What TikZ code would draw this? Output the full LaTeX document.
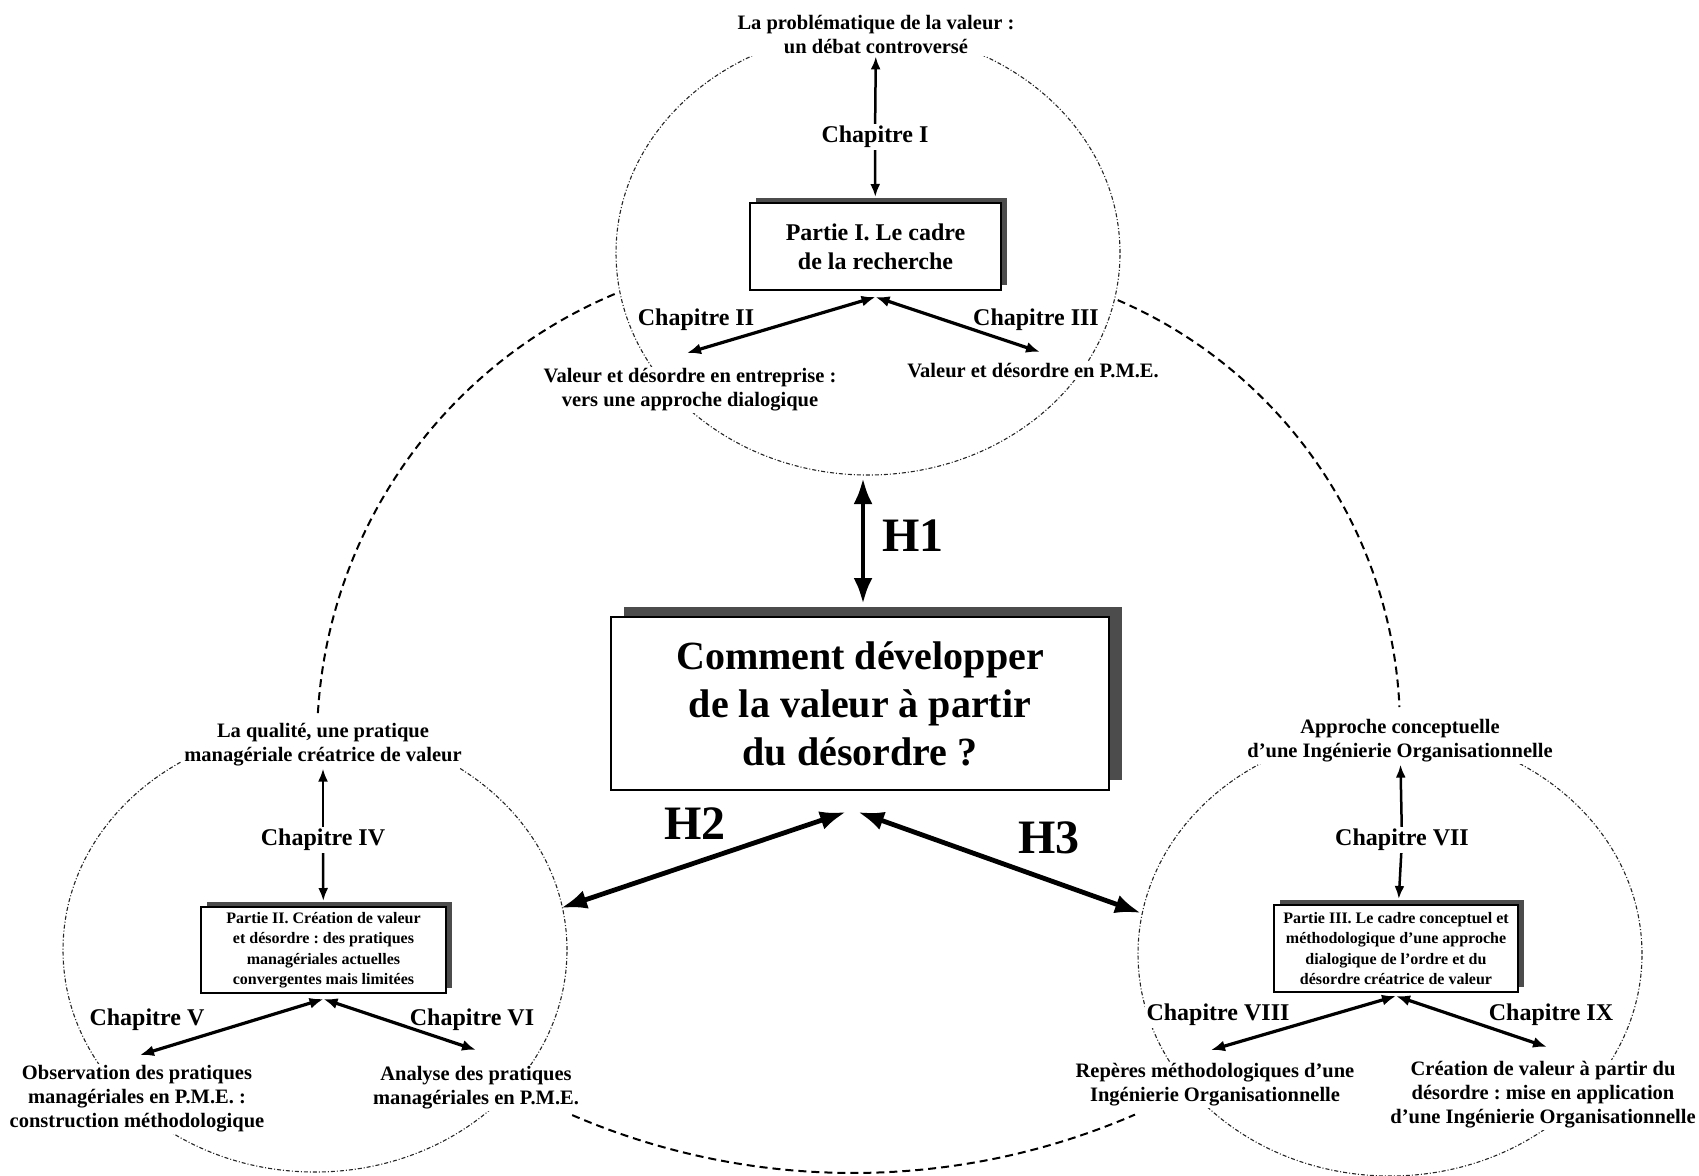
\documentclass[tikz,border=0pt]{standalone}
\usepackage{fontspec}
\setmainfont{Liberation Serif}
\usetikzlibrary{arrows.meta,shapes.geometric,shadows}
\frenchspacing
\begin{document}
\begin{tikzpicture}[x=1pt,y=-1pt,
  lbl/.style={font=\fontsize{20.5}{24}\selectfont\bfseries, align=center, fill=white, inner sep=2pt},
  chap/.style={font=\fontsize{24}{28}\selectfont\bfseries, fill=white, inner sep=2pt},
  hlab/.style={font=\fontsize{48}{52}\selectfont\bfseries, inner sep=1pt},
  circ/.style={draw=black!85, line width=1.1pt, dash pattern=on 4pt off 2pt on 1pt off 2pt, ellipse, inner sep=0pt, minimum width=504pt, minimum height=444pt},
  link/.style={draw=black, line width=2pt, dash pattern=on 8pt off 5pt},
  arr/.style={-{Latex[length=13pt,width=10pt]}, line width=2.5pt},
  darr/.style={{Latex[length=14pt,width=11pt]}-{Latex[length=14pt,width=11pt]}, line width=3.2pt},
  harr/.style={{Latex[length=26pt,width=19pt]}-{Latex[length=26pt,width=19pt]}, line width=4.8pt},
  partbox/.style={draw, line width=2pt, fill=white, align=center, inner sep=0pt,
    drop shadow={shadow xshift=6pt, shadow yshift=5pt, fill=black!70, opacity=1}},
  bigbox/.style={draw, line width=2.5pt, fill=white, align=center, inner sep=0pt,
    drop shadow={shadow xshift=13pt, shadow yshift=10pt, fill=black!70, opacity=1}}
]
\useasboundingbox (0,0) rectangle (1699,1175);

% circles of the three parts
\node[circ] (c1) at (868,253) {};
\node[circ] (c2) at (315,950) {};
\node[circ] (c3) at (1390,954) {};

% large dashed links between circles
\draw[link] (803,742) ++(-112.8:486) arc[start angle=-112.8, end angle=-176.6, radius=486];
\draw[link] (933,729) ++(-66.7:467) arc[start angle=-66.7, end angle=-2.7, radius=467];
\draw[link] (853,463) ++(113.3:710) arc[start angle=113.3, end angle=66.6, radius=710];

% Part I
\node[lbl] (t1) at (876,35) {La problématique de la valeur :\\un débat controversé};
\node[chap] (ch1) at (875,137) {Chapitre I};
\node[partbox, minimum width=251pt, minimum height=87pt, font=\fontsize{24}{29}\selectfont\bfseries] (p1) at (875.5,246.5) {Partie I. Le cadre\\ de la recherche};
\node[chap] (ch2) at (696,320) {Chapitre II};
\node[chap] (ch3) at (1036,320) {Chapitre III};
\node[lbl] (d2) at (690,390) {Valeur et désordre en entreprise :\\vers une approche dialogique};
\node[lbl] (d3) at (1033,371) {Valeur et désordre en P.M.E.};

% Part II
\node[lbl] (q) at (323,745) {La qualité, une pratique\\managériale créatrice de valeur};
\node[chap] (ch4) at (323,840) {Chapitre IV};
\node[partbox, minimum width=245pt, minimum height=86pt, font=\fontsize{16}{20.5}\selectfont\bfseries] (p2) at (323.5,950) {Partie II. Création de valeur\\et désordre : des pratiques\\managériales actuelles\\convergentes mais limitées};
\node[chap] (ch5) at (147,1020) {Chapitre V};
\node[chap] (ch6) at (472,1020) {Chapitre VI};
\node[lbl] (d5) at (137,1099) {Observation des pratiques\\managériales en P.M.E. :\\construction méthodologique};
\node[lbl] (d6) at (476,1088) {Analyse des pratiques\\managériales en P.M.E.};

% Part III
\node[lbl] (ap) at (1400,741) {Approche conceptuelle\\d'une Ingénierie Organisationnelle};
\node[chap] (ch7) at (1402,840) {Chapitre VII};
\node[partbox, minimum width=244pt, minimum height=87pt, font=\fontsize{16}{20.5}\selectfont\bfseries] (p3) at (1396,948.5) {Partie III. Le cadre conceptuel et\\méthodologique d'une approche\\dialogique de l'ordre et du\\désordre créatrice de valeur};
\node[chap] (ch8) at (1218,1015) {Chapitre VIII};
\node[chap] (ch9) at (1551,1015) {Chapitre IX};
\node[lbl] (d8) at (1215,1085) {Repères méthodologiques d'une\\Ingénierie Organisationnelle};
\node[lbl] (d9) at (1543,1095) {Création de valeur à partir du\\désordre : mise en application\\d'une Ingénierie Organisationnelle};

% central question
\node[bigbox, minimum width=498pt, minimum height=173pt, font=\fontsize{40}{48}\selectfont\bfseries] (mq) at (860,703.5) {Comment développer\\de la valeur à partir\\du désordre ?};

\node[hlab] (h1) at (913,536) {H1};
\node[hlab] (h2) at (695,824) {H2};
\node[hlab] (h3) at (1049,838) {H3};

% connector end points
\coordinate (e2) at (687,353);
\coordinate (e3) at (1040,352);
\coordinate (e5) at (140,1055);
\coordinate (e6) at (476,1050);
\coordinate (e8) at (1211,1050);
\coordinate (e9) at (1547,1047);
\coordinate (h1a) at (863,478);
\coordinate (h1b) at (863,604);
\coordinate (h2a) at (846,812);
\coordinate (h2b) at (561,908);
\coordinate (h3a) at (858,812);
\coordinate (h3b) at (1141,913);

% chapter arrows
\draw[arr] (ch1) -- (t1);
\draw[arr, shorten >=5pt] (ch1) -- (p1);
\draw[darr] ([yshift=-6pt]p1.south) -- (e2);
\draw[darr] ([yshift=-6pt]p1.south) -- (e3);

\draw[arr] (ch4) -- (q);
\draw[arr, shorten >=5pt] (ch4) -- (p2);
\draw[darr] ([yshift=-5pt]p2.south) -- (e5);
\draw[darr] ([yshift=-5pt]p2.south) -- (e6);

\draw[arr] (ch7) -- (ap);
\draw[arr, shorten >=5pt] (ch7) -- (p3);
\draw[darr] ([yshift=-3pt]p3.south) -- (e8);
\draw[darr] ([yshift=-3pt]p3.south) -- (e9);

% hypotheses
\draw[harr] (h1a) -- (h1b);
\draw[harr] (h2a) -- (h2b);
\draw[harr] (h3a) -- (h3b);
\end{tikzpicture}
\end{document}
